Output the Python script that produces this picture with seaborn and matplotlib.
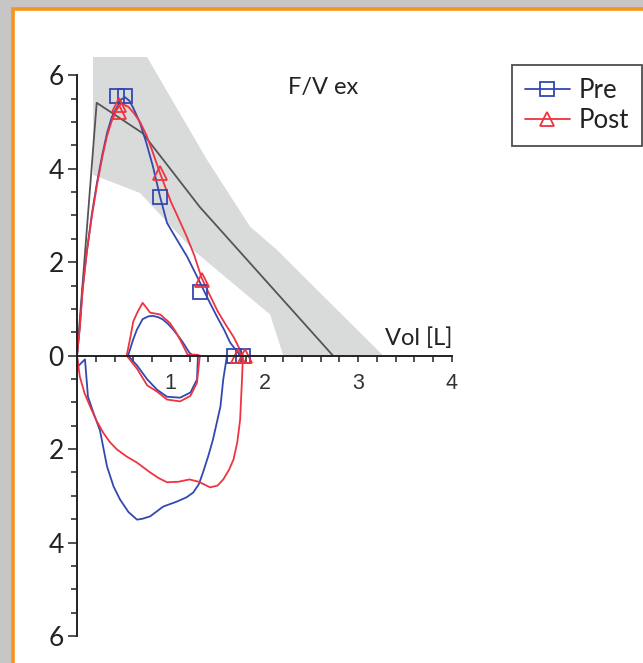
import numpy as np
import matplotlib
matplotlib.use("Agg")
import matplotlib.pyplot as plt
from matplotlib.patches import Rectangle
from matplotlib.lines import Line2D
from matplotlib.ticker import MultipleLocator, FuncFormatter
import pandas as pd
import seaborn as sns

# predicted range (grey band) and predicted curve
band_upper_x = [0.171, 0.747, 1.387, 1.846, 2.134, 3.266]
band_upper_y = [6.39, 6.39, 4.19, 2.76, 2.26, 0.0]
band_lower_x = [0.171, 0.672, 1.238, 2.06, 2.20]
band_lower_y = [3.87, 3.48, 2.26, 0.88, 0.0]
pred_x = [0.0, 0.21, 0.70, 1.31, 2.73]
pred_y = [0.0, 5.41, 4.76, 3.18, 0.0]

# Pre: forced expiration / inspiration and tidal loop
pre_exp_x = [0.0, 0.03, 0.06, 0.107, 0.16, 0.213, 0.27, 0.32, 0.37, 0.427, 0.47, 0.512, 0.56, 0.60, 0.672, 0.74, 0.811, 0.886, 0.96, 1.06, 1.174, 1.313, 1.40, 1.494, 1.57, 1.633, 1.74]
pre_exp_y = [0.0, 0.62, 1.45, 2.26, 3.05, 3.70, 4.30, 4.76, 5.10, 5.32, 5.48, 5.53, 5.45, 5.30, 4.98, 4.55, 4.04, 3.40, 2.84, 2.50, 2.12, 1.56, 1.20, 0.83, 0.55, 0.28, 0.0]
pre_insp_x = [0.0, 0.01, 0.085, 0.117, 0.18, 0.245, 0.32, 0.39, 0.459, 0.55, 0.64, 0.70, 0.78, 0.92, 1.07, 1.17, 1.24, 1.30, 1.344, 1.40, 1.45, 1.53, 1.56, 1.60]
pre_insp_y = [0.0, -0.23, -0.08, -0.88, -1.25, -1.60, -2.37, -2.80, -3.08, -3.35, -3.51, -3.49, -3.44, -3.23, -3.12, -3.03, -2.93, -2.75, -2.50, -2.15, -1.80, -1.09, -0.51, 0.0]
pre_tid_x = [0.545, 0.60, 0.64, 0.70, 0.76, 0.81, 0.87, 0.918, 0.97, 1.025, 1.08, 1.13, 1.20, 1.24, 1.29, 1.28, 1.21, 1.10, 0.96, 0.854, 0.75, 0.64, 0.545]
pre_tid_y = [0.0, 0.35, 0.56, 0.78, 0.84, 0.85, 0.82, 0.77, 0.68, 0.56, 0.42, 0.28, 0.06, 0.0, 0.0, -0.51, -0.79, -0.90, -0.88, -0.73, -0.51, -0.21, 0.0]
pre_mark_x = [0.43, 0.51, 0.886, 1.31, 1.675, 1.77]
pre_mark_y = [5.55, 5.55, 3.40, 1.37, 0.0, 0.0]

# Post
post_exp_x = [0.0, 0.03, 0.06, 0.107, 0.16, 0.213, 0.27, 0.32, 0.37, 0.42, 0.47, 0.55, 0.61, 0.672, 0.74, 0.80, 0.886, 1.0, 1.08, 1.17, 1.25, 1.33, 1.42, 1.50, 1.59, 1.67, 1.77]
post_exp_y = [0.0, 0.60, 1.40, 2.26, 3.00, 3.65, 4.25, 4.70, 5.02, 5.25, 5.40, 5.32, 5.18, 5.00, 4.72, 4.40, 3.90, 3.30, 2.95, 2.55, 2.15, 1.66, 1.28, 0.95, 0.65, 0.40, 0.0]
post_insp_x = [0.0, 0.03, 0.08, 0.14, 0.21, 0.28, 0.35, 0.427, 0.53, 0.64, 0.78, 0.87, 0.96, 1.08, 1.20, 1.30, 1.42, 1.50, 1.56, 1.62, 1.67, 1.71, 1.74, 1.76, 1.77]
post_insp_y = [0.0, -0.45, -0.80, -1.09, -1.40, -1.65, -1.85, -2.01, -2.16, -2.29, -2.50, -2.62, -2.71, -2.70, -2.65, -2.70, -2.82, -2.78, -2.65, -2.45, -2.22, -1.85, -1.37, -0.51, 0.0]
post_tid_x = [0.53, 0.57, 0.60, 0.65, 0.70, 0.78, 0.887, 0.99, 1.05, 1.10, 1.18, 1.28, 1.31, 1.28, 1.21, 1.10, 0.96, 0.854, 0.75, 0.64, 0.53]
post_tid_y = [0.0, 0.40, 0.73, 0.95, 1.13, 0.92, 0.88, 0.70, 0.52, 0.34, 0.02, 0.02, 0.0, -0.58, -0.86, -0.98, -0.94, -0.77, -0.64, -0.28, 0.0]
post_mark_x = [0.45, 0.45, 0.886, 1.33, 1.72, 1.79]
post_mark_y = [5.36, 5.22, 3.91, 1.62, 0.0, 0.0]

BLUE = "#3348b0"
RED = "#ee3440"
INK = "#222222"

sns.set_style("white")
plt.rcParams["font.family"] = ["Lato", "DejaVu Sans"]

fig = plt.figure(figsize=(6.43, 6.63), dpi=100, facecolor="#c6c6c6")
fig.patches.append(Rectangle((12.5 / 643, -0.05), 1.2, 1.05 - 9.5 / 663,
                             transform=fig.transFigure, facecolor="white",
                             edgecolor="#f7941d", linewidth=2.6, zorder=-5))

ax = fig.add_axes([77 / 643, 1 - 636 / 663, 375 / 643, 579 / 663])
ax.set_facecolor("none")
ax.set_xlim(0, 4)
ax.set_ylim(-6, 6.39)

# grey predicted band
bx = band_upper_x + band_lower_x[::-1]
by = band_upper_y + band_lower_y[::-1]
ax.fill(bx, by, color="#d9dada", lw=0, zorder=1)
sns.lineplot(x=pred_x, y=pred_y, sort=False, estimator=None, color="#555555", lw=1.3, ax=ax, zorder=2)

for xs, ys, c in [(pre_exp_x, pre_exp_y, BLUE), (pre_insp_x, pre_insp_y, BLUE), (pre_tid_x, pre_tid_y, BLUE),
                  (post_exp_x, post_exp_y, RED), (post_insp_x, post_insp_y, RED), (post_tid_x, post_tid_y, RED)]:
    df = pd.DataFrame({"vol": xs, "flow": ys})
    sns.lineplot(data=df, x="vol", y="flow", sort=False, estimator=None, color=c, lw=1.3, ax=ax, zorder=3)

ax.plot(pre_mark_x, pre_mark_y, ls="none", marker="s", ms=10.5, mfc="none", mec=BLUE, mew=1.3, zorder=4)
ax.plot(post_mark_x, post_mark_y, ls="none", marker="^", ms=10, mfc="none", mec=RED, mew=1.3, zorder=4)
for ln in ax.lines:
    ln.set_clip_on(False)

# axes styling
for s in ["top", "right"]:
    ax.spines[s].set_visible(False)
ax.spines["bottom"].set_position(("data", 0))
ax.spines["bottom"].set_bounds(0, 4)
ax.spines["left"].set_bounds(-6, 6)
for s in ["bottom", "left"]:
    ax.spines[s].set_color(INK)
    ax.spines[s].set_linewidth(1.4)
    ax.spines[s].set_zorder(5)

ax.set_xticks([1, 2, 3, 4])
ax.xaxis.set_minor_locator(MultipleLocator(0.2))
ax.set_yticks([-6, -4, -2, 0, 2, 4, 6])
ax.yaxis.set_minor_locator(MultipleLocator(0.5))
ax.yaxis.set_major_formatter(FuncFormatter(lambda v, p: f"{abs(v):g}"))
ax.tick_params(axis="x", which="both", direction="out", length=4.5, width=1.1, color=INK,
               bottom=True, pad=8, labelsize=15.5, labelcolor="#333333")
ax.tick_params(axis="y", which="major", direction="out", length=6.5, width=1.1, color=INK,
               left=True, pad=3, labelsize=19, labelcolor=INK)
ax.tick_params(axis="y", which="minor", direction="out", length=4.3, width=1.1, color=INK, left=True)
for t in ax.get_xticklabels():
    t.set_fontfamily(["Liberation Sans", "DejaVu Sans"])
ax.set_xlabel("")
ax.set_ylabel("")

ax.text(0.655, 0.948, "F/V ex", transform=ax.transAxes, ha="center", va="center", fontsize=17, color=INK)
ax.text(4.0, 0.38, "Vol [L]", ha="right", va="center", fontsize=17, color=INK)

handles = [Line2D([], [], color=BLUE, lw=1.3, marker="s", ms=10.5, mfc="none", mec=BLUE, mew=1.3),
           Line2D([], [], color=RED, lw=1.3, marker="^", ms=10, mfc="none", mec=RED, mew=1.3)]
leg = ax.legend(handles, ["Pre", "Post"], loc="upper left", bbox_to_anchor=(512 / 643, 1 - 65 / 663),
                bbox_transform=fig.transFigure, borderaxespad=0, fancybox=False, frameon=True,
                fontsize=18.5, handlelength=1.75, handletextpad=0.35, borderpad=0.5, labelspacing=0.2)
leg.get_frame().set_edgecolor(INK)
leg.get_frame().set_linewidth(1.3)
for t in leg.get_texts():
    t.set_color(INK)

fig.savefig("out.png", dpi=100, facecolor=fig.get_facecolor())
